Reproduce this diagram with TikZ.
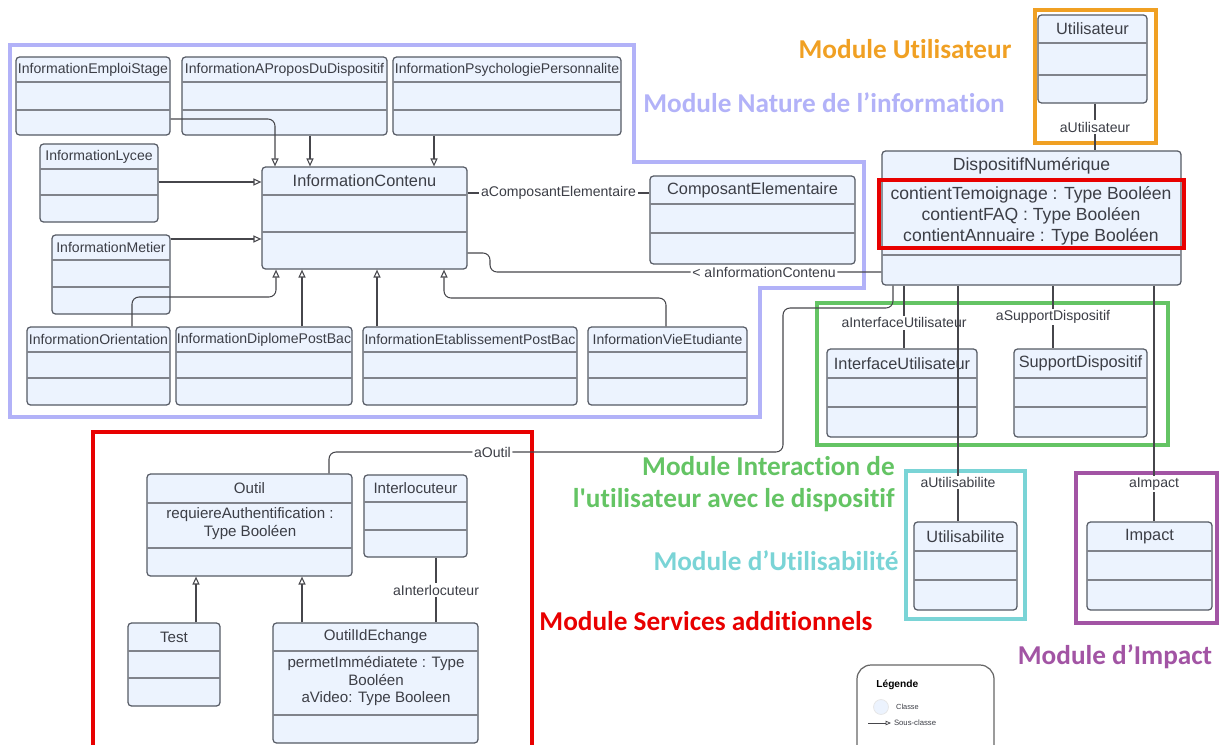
\documentclass[tikz,border=0pt]{standalone}
\usepackage{fontspec}
\setmainfont{Liberation Sans}
\newfontfamily\calibri{Carlito}[Ligatures={NoCommon,NoContextual}]
\usetikzlibrary{positioning, fit, arrows.meta}

\definecolor{lavande}{RGB}{178,178,248}
\definecolor{orangemod}{RGB}{240,160,35}
\definecolor{rougemod}{RGB}{232,0,0}
\definecolor{vertmod}{RGB}{100,196,100}
\definecolor{cyanmod}{RGB}{122,212,214}
\definecolor{violetmod}{RGB}{162,84,164}
\definecolor{fondclasse}{RGB}{236,243,254}
\definecolor{bord}{RGB}{85,90,100}
\definecolor{trait}{RGB}{70,70,75}
\definecolor{texte}{RGB}{60,62,70}

% #1 font style, #2 name, #3-#6 corners, #7 #8 compartment lines, #9 title
\newcommand{\classe}[9][]{%
  \node[classbox, fit={(#3,#4) (#5,#6)}] (#2) {};
  \draw[compart] (#3,#7) -- (#5,#7) (#3,#8) -- (#5,#8);
  \node[titre, #1] (#2-titre) at ({(#3+#5)/2},{(#4+#7)/2}) {#9};
}

\begin{document}
\begin{tikzpicture}[
    x=0.02cm, y=-0.02cm,
    classbox/.style={draw=bord, line width=0.7pt, fill=fondclasse, rounded corners=2pt, inner sep=0pt},
    compart/.style={draw=bord!75, line width=0.6pt},
    titre/.style={text=texte, inner sep=0pt},
    petit/.style={font=\fontsize{8}{9.6}\selectfont},
    moyen/.style={font=\fontsize{9.3}{11}\selectfont},
    grand/.style={font=\fontsize{10}{11.9}\selectfont},
    service/.style={font=\fontsize{8.6}{10.2}\selectfont},
    assoc/.style={draw=trait, line width=0.6pt},
    herite/.style={assoc, -{Triangle[open, length=4.5pt, width=4pt]}},
    etiq/.style={fill=white, inner sep=1pt, text=texte, font=\fontsize{8}{9.6}\selectfont},
    module/.style={font=\calibri\bfseries\fontsize{15.5}{18.1}\selectfont, inner sep=0pt},
    cadre/.style={line width=2.3pt}
  ]
  \useasboundingbox (0,0) rectangle (1219,744);

  % module frames
  \draw[cadre, lavande, line width=2.6pt] (10,45) -- (634,45) -- (634,162) -- (864,162) -- (864,288)
    -- (760,288) -- (760,417) -- (10,417) -- cycle;
  \draw[cadre, orangemod] (1035,10) rectangle (1156,143);
  \draw[cadre, vertmod] (817,303) rectangle (1168,445);
  \draw[cadre, cyanmod] (906,471) rectangle (1025,619);
  \draw[cadre, violetmod] (1076,473) rectangle (1217,623);
  \draw[cadre, rougemod, line width=2.8pt] (93,760) -- (93,432) -- (532,432) -- (532,760);

  % module labels
  \node[module, text=orangemod] (mod-util) at (905,49) {Module Utilisateur};
  \node[module, text=lavande] (mod-nature) at (824,103) {Module Nature de l’information};
  \node[module, text=vertmod, align=right, anchor=east] (mod-inter) at (895,484)
    {Module Interaction de\\l\textquotesingle utilisateur avec le dispositif};
  \node[module, text=cyanmod] (mod-usab) at (776,561) {Module d’Utilisabilité};
  \node[module, text=rougemod] (mod-serv) at (706,621) {Module Services additionnels};
  \node[module, text=violetmod] (mod-impact) at (1115,657) {Module d’Impact};

  % classes
  \classe[petit]{emploi}{16}{57}{170}{135}{82}{110}{InformationEmploiStage}
  \classe[petit]{apropos}{182}{57}{387}{135}{82}{110}{InformationAProposDuDispositif}
  \classe[petit]{psycho}{393}{57}{621}{135}{82}{110}{InformationPsychologiePersonnalite}
  \classe[petit]{lycee}{40}{144}{158}{222}{169}{195}{InformationLycee}
  \classe[petit]{metier}{52}{235}{170}{314}{260}{287}{InformationMetier}
  \classe[moyen]{contenu}{262}{167}{467}{269}{195}{232}{InformationContenu}
  \classe[moyen]{composant}{650}{176}{855}{264}{204}{233}{ComposantElementaire}
  \classe[petit]{orientation}{27}{327}{170}{405}{352}{378}{InformationOrientation}
  \classe[petit]{diplome}{176}{327}{352}{405}{352}{378}{InformationDiplomePostBac}
  \classe[petit]{etab}{363}{327}{577}{405}{352}{378}{InformationEtablissementPostBac}
  \classe[petit]{vie}{588}{327}{747}{405}{352}{378}{InformationVieEtudiante}
  \classe[moyen]{utilisateur}{1038}{15}{1147}{103}{43}{75}{Utilisateur}
  \classe[grand]{dispositif}{882}{151}{1181}{285}{180}{255}{DispositifNumérique}
  \classe[moyen]{interface}{827}{349}{977}{437}{378}{407}{InterfaceUtilisateur}
  \classe[moyen]{support}{1014}{349}{1147}{437}{378}{407}{SupportDispositif}
  \classe[moyen]{utilisabilite}{914}{522}{1017}{610}{551}{580}{Utilisabilite}
  \classe[moyen]{impact}{1087}{522}{1212}{610}{551}{580}{Impact}
  \classe[service]{outil}{147}{474}{352}{576}{503}{548}{Outil}
  \classe[service]{interloc}{364}{475}{467}{557}{502}{530}{Interlocuteur}
  \classe[service]{test}{128}{623}{220}{706}{651}{678}{Test}
  \classe[service]{echange}{273}{623}{478}{743}{651}{715}{OutilIdEchange}

  % attributes
  \node[titre, grand, align=center] (dispositif-attr) at (1031,216)
    {contientTemoignage : Type Booléen\\contientFAQ : Type Booléen\\contientAnnuaire : Type Booléen};
  \draw[cadre, rougemod] (879,180) rectangle (1184,248);
  \node[titre, service, align=center] (outil-attr) at (250,524)
    {requiereAuthentification :\\Type Booléen};
  \node[titre, service, align=center] (echange-attr) at (376,681)
    {permetImmédiatete : Type\\Booléen\\aVideo: Type Booleen};

  % sub-classes
  \draw[herite, rounded corners=4pt] (emploi.east |- 0,119) -| (contenu.north -| 275,0);
  \draw[herite] (apropos.south -| 310,0) -- (contenu.north -| 310,0);
  \draw[herite] (psycho.south -| 434,0) -- (contenu.north -| 434,0);
  \draw[herite] (lycee.east |- 0,182) -- (contenu.west |- 0,182);
  \draw[herite] (metier.east |- 0,239) -- (contenu.west |- 0,239);
  \draw[herite, rounded corners=4pt] (orientation.north -| 132,0) |- (276,297) -- (contenu.south -| 276,0);
  \draw[herite] (diplome.north -| 302,0) -- (contenu.south -| 302,0);
  \draw[herite] (etab.north -| 377,0) -- (contenu.south -| 377,0);
  \draw[herite, rounded corners=4pt] (vie.north -| 666,0) |- (444,298) -- (contenu.south -| 444,0);
  \draw[herite] (test.north -| 196,0) -- (outil.south -| 196,0);
  \draw[herite] (echange.north -| 302,0) -- (outil.south -| 302,0);

  % associations
  \draw[assoc] (contenu.east |- 0,193) -- node[etiq] {aComposantElementaire} (composant.west |- 0,193);
  \draw[assoc, rounded corners=4pt] (contenu.east |- 0,253) -| (490,272)
    -- node[etiq, pos=0.7] {< aInformationContenu} (dispositif.west |- 0,272);
  \draw[assoc] (utilisateur.south -| 1095,0) -- node[etiq] {aUtilisateur} (dispositif.north -| 1095,0);
  \draw[assoc] (dispositif.south -| 904,0) -- node[etiq, pos=0.59] {aInterfaceUtilisateur} (interface.north -| 904,0);
  \draw[assoc] (dispositif.south -| 1053,0) -- node[etiq, pos=0.5] {aSupportDispositif} (support.north -| 1053,0);
  \draw[assoc] (dispositif.south -| 958,0) -- node[etiq, pos=0.835] {aUtilisabilite} (utilisabilite.north -| 958,0);
  \draw[assoc] (dispositif.south -| 1154,0) -- node[etiq, pos=0.84] {aImpact} (impact.north -| 1154,0);
  \draw[assoc, rounded corners=4pt] (dispositif.south -| 893,0) |- (783,308) -- (783,452)
    -- node[etiq, pos=0.64] {aOutil} (329,452) -- (outil.north -| 329,0);
  \draw[assoc] (interloc.south -| 436,0) -- node[etiq] {aInterlocuteur} (echange.north -| 436,0);

  % legend
  \draw[draw=gray!80!black, line width=0.7pt, rounded corners=8pt] (857,770) -- (857,665) -- (994,665) -- (994,770);
  \node[font=\bfseries\fontsize{5.8}{7}\selectfont, anchor=west, inner sep=0pt] (legende) at (876,685) {Légende};
  \node[circle, fill=fondclasse, draw=gray!20, minimum size=8.5pt, inner sep=0pt] (rond) at (881,707) {};
  \node[right=4pt of rond, font=\fontsize{4.2}{5}\selectfont, inner sep=0pt, text=texte] (classe-leg) {Classe};
  \coordinate (fleche-debut) at (868,723);
  \coordinate (fleche-fin) at (891,723);
  \draw[assoc, line width=0.4pt, -{Triangle[open, length=3pt, width=2.5pt]}] (fleche-debut) -- (fleche-fin);
  \node[right=1.5pt of fleche-fin, font=\fontsize{4.4}{5}\selectfont, inner sep=0pt, text=texte] (sous-leg) {Sous-classe};
\end{tikzpicture}
\end{document}
